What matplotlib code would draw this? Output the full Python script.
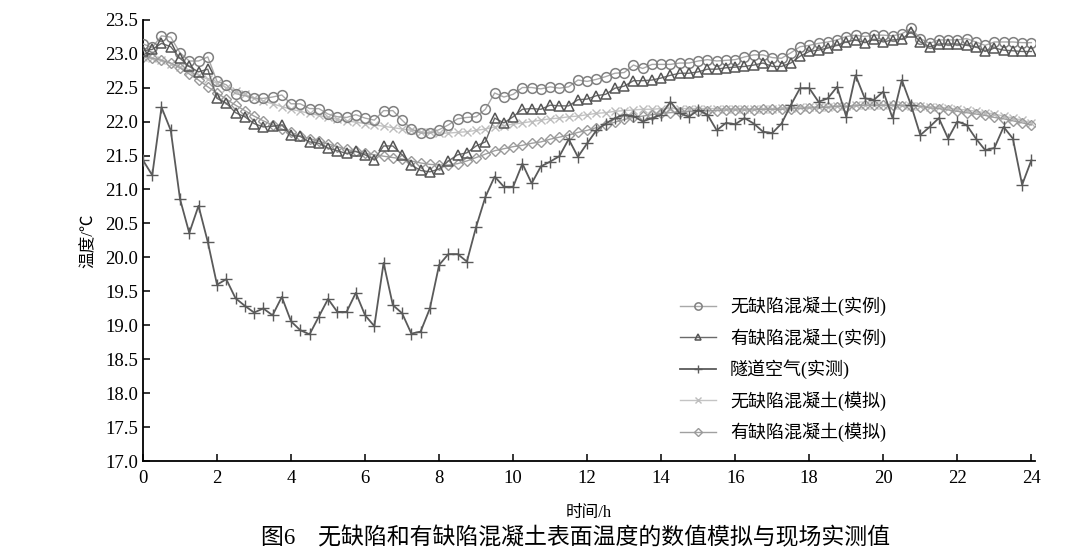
import numpy as np
import matplotlib
matplotlib.use("Agg")
import matplotlib.pyplot as plt

plt.rcParams['font.family'] = ['Liberation Serif', 'Noto Sans CJK SC', 'DejaVu Sans']

hours = np.linspace(0, 24, 97)

wu_shili = [23.14, 23.09, 23.26, 23.24, 23.01, 22.89, 22.89, 22.95, 22.59, 22.54,
            22.41, 22.38, 22.34, 22.34, 22.36, 22.39, 22.26, 22.26, 22.19, 22.19,
            22.11, 22.07, 22.06, 22.10, 22.05, 22.02, 22.16, 22.16, 22.02, 21.89,
            21.83, 21.83, 21.88, 21.95, 22.04, 22.06, 22.07, 22.18, 22.42, 22.36,
            22.40, 22.50, 22.50, 22.48, 22.51, 22.49, 22.51, 22.61, 22.59, 22.62,
            22.66, 22.71, 22.72, 22.83, 22.78, 22.84, 22.84, 22.84, 22.86, 22.86,
            22.89, 22.91, 22.89, 22.90, 22.91, 22.95, 22.98, 22.98, 22.94, 22.93,
            23.01, 23.10, 23.12, 23.15, 23.17, 23.20, 23.25, 23.27, 23.25, 23.27,
            23.27, 23.26, 23.29, 23.37, 23.22, 23.15, 23.20, 23.20, 23.20, 23.22,
            23.17, 23.12, 23.17, 23.17, 23.17, 23.16, 23.16]

you_shili = [23.04, 23.06, 23.15, 23.10, 22.93, 22.81, 22.73, 22.77, 22.34, 22.27,
             22.13, 22.07, 21.97, 21.92, 21.93, 21.95, 21.80, 21.78, 21.70, 21.68,
             21.61, 21.57, 21.53, 21.56, 21.51, 21.44, 21.64, 21.64, 21.51, 21.36,
             21.28, 21.26, 21.30, 21.42, 21.51, 21.54, 21.64, 21.70, 22.05, 21.98,
             22.07, 22.18, 22.19, 22.18, 22.24, 22.23, 22.23, 22.32, 22.33, 22.38,
             22.40, 22.49, 22.52, 22.60, 22.60, 22.61, 22.64, 22.68, 22.71, 22.71,
             22.73, 22.77, 22.77, 22.79, 22.80, 22.81, 22.83, 22.86, 22.81, 22.81,
             22.86, 22.96, 23.03, 23.05, 23.08, 23.12, 23.17, 23.20, 23.16, 23.21,
             23.17, 23.20, 23.21, 23.32, 23.17, 23.10, 23.14, 23.14, 23.14, 23.12,
             23.10, 23.03, 23.08, 23.05, 23.04, 23.03, 23.03]

suidao = [21.43, 21.21, 22.21, 21.87, 20.86, 20.36, 20.76, 20.23, 19.60, 19.68,
          19.40, 19.29, 19.19, 19.25, 19.15, 19.42, 19.06, 18.93, 18.87, 19.13,
          19.39, 19.20, 19.20, 19.48, 19.15, 18.99, 19.92, 19.30, 19.18, 18.88,
          18.91, 19.25, 19.89, 20.05, 20.05, 19.94, 20.45, 20.89, 21.19, 21.04,
          21.04, 21.38, 21.09, 21.34, 21.41, 21.49, 21.74, 21.48, 21.68, 21.87,
          21.97, 22.05, 22.10, 22.08, 22.00, 22.05, 22.10, 22.29, 22.12, 22.07,
          22.17, 22.10, 21.87, 21.98, 21.96, 22.05, 21.97, 21.85, 21.83, 21.97,
          22.24, 22.49, 22.49, 22.29, 22.34, 22.51, 22.07, 22.68, 22.34, 22.32,
          22.44, 22.05, 22.61, 22.24, 21.80, 21.92, 22.05, 21.75, 22.00, 21.95,
          21.75, 21.58, 21.61, 21.92, 21.75, 21.07, 21.43]

wu_moni = [22.95, 22.93, 22.90, 22.85, 22.80, 22.74, 22.68, 22.62, 22.56, 22.50,
           22.45, 22.40, 22.35, 22.30, 22.26, 22.22, 22.18, 22.15, 22.12, 22.09,
           22.06, 22.03, 22.01, 21.99, 21.97, 21.95, 21.93, 21.91, 21.89, 21.87,
           21.85, 21.84, 21.83, 21.83, 21.84, 21.85, 21.87, 21.89, 21.92, 21.94,
           21.96, 21.98, 22.00, 22.02, 22.04, 22.05, 22.07, 22.08, 22.10, 22.12,
           22.13, 22.15, 22.16, 22.17, 22.18, 22.18, 22.19, 22.19, 22.19, 22.19,
           22.19, 22.19, 22.19, 22.19, 22.19, 22.19, 22.19, 22.19, 22.19, 22.20,
           22.20, 22.21, 22.21, 22.22, 22.22, 22.23, 22.23, 22.24, 22.24, 22.24,
           22.24, 22.24, 22.24, 22.23, 22.23, 22.22, 22.21, 22.20, 22.18, 22.17,
           22.15, 22.13, 22.11, 22.08, 22.05, 22.02, 21.98]

you_moni = [22.95, 22.93, 22.90, 22.86, 22.79, 22.70, 22.61, 22.51, 22.42, 22.33,
            22.24, 22.16, 22.08, 22.01, 21.95, 21.89, 21.84, 21.79, 21.75, 21.71,
            21.67, 21.63, 21.59, 21.56, 21.53, 21.51, 21.49, 21.47, 21.45, 21.42,
            21.39, 21.37, 21.36, 21.36, 21.38, 21.42, 21.47, 21.52, 21.57, 21.60,
            21.63, 21.65, 21.68, 21.70, 21.74, 21.77, 21.80, 21.84, 21.87, 21.91,
            21.95, 21.99, 22.03, 22.06, 22.08, 22.10, 22.12, 22.13, 22.14, 22.15,
            22.15, 22.16, 22.16, 22.17, 22.17, 22.17, 22.17, 22.18, 22.18, 22.18,
            22.19, 22.19, 22.20, 22.20, 22.21, 22.22, 22.22, 22.23, 22.24, 22.24,
            22.24, 22.24, 22.23, 22.23, 22.22, 22.20, 22.19, 22.17, 22.15, 22.13,
            22.11, 22.09, 22.06, 22.04, 22.01, 21.98, 21.95]

labels = ['无缺陷混凝土(实例)', '有缺陷混凝土(实例)', '隧道空气(实测)',
          '无缺陷混凝土(模拟)', '有缺陷混凝土(模拟)']
xticks = [0, 2, 4, 6, 8, 10, 12, 14, 16, 18, 20, 22, 24]
yticks = [17.0, 17.5, 18.0, 18.5, 19.0, 19.5, 20.0, 20.5, 21.0, 21.5, 22.0, 22.5, 23.0, 23.5]

fig = plt.figure(figsize=(10.8, 5.5), dpi=100)
ax = fig.add_axes([0.1324, 0.161, 0.826, 0.8035])

h4, = ax.plot(hours, wu_moni, color='#c4c4c4', lw=1.0, marker='x', ms=6,
              mew=1.0, mec='#bdbdbd', zorder=2)
h5, = ax.plot(hours, you_moni, color='#a0a0a0', lw=1.0, marker='D', ms=5,
              mfc='none', mew=1.0, mec='#9a9a9a', zorder=2)
h1, = ax.plot(hours, wu_shili, color='#a8a8a8', lw=1.0, marker='o', ms=7,
              mfc='none', mew=1.1, mec='#808080', zorder=3)
h2, = ax.plot(hours, you_shili, color='#6a6a6a', lw=1.0, marker='^', ms=6.5,
              mfc='none', mew=1.1, mec='#555555', zorder=3)
h3, = ax.plot(hours, suidao, color='#5a5a5a', lw=1.3, marker='+', ms=8,
              mew=1.0, mec='#5a5a5a', zorder=4)

ax.set_xlim(0, 24.1)
ax.set_ylim(17.0, 23.5)
ax.set_xticks(xticks)
ax.set_xticklabels([str(v) for v in xticks])
ax.set_yticks(yticks)
ax.set_yticklabels(['%.1f' % v for v in yticks])
ax.tick_params(direction='in', length=5, width=1.1, labelsize=13.5, colors='black')
ax.tick_params(axis='x', pad=6)
for s in ['top', 'right']:
    ax.spines[s].set_visible(False)
for s in ['left', 'bottom']:
    ax.spines[s].set_linewidth(1.3)

ax.set_ylabel('温度/℃', fontsize=12, labelpad=6)
ax.set_xlabel('时间/h', fontsize=12, labelpad=13)

leg = ax.legend([h1, h2, h3, h4, h5], labels, loc='upper left',
                bbox_to_anchor=(0.584, 0.41), frameon=False, fontsize=13,
                handlelength=2.0, markerscale=0.75, labelspacing=0.66,
                handletextpad=0.75)

fig.text(0.533, 0.002, '图6　无缺陷和有缺陷混凝土表面温度的数值模拟与现场实测值',
         ha='center', va='bottom', fontsize=16.5)

fig.savefig('out.png', dpi=100)
